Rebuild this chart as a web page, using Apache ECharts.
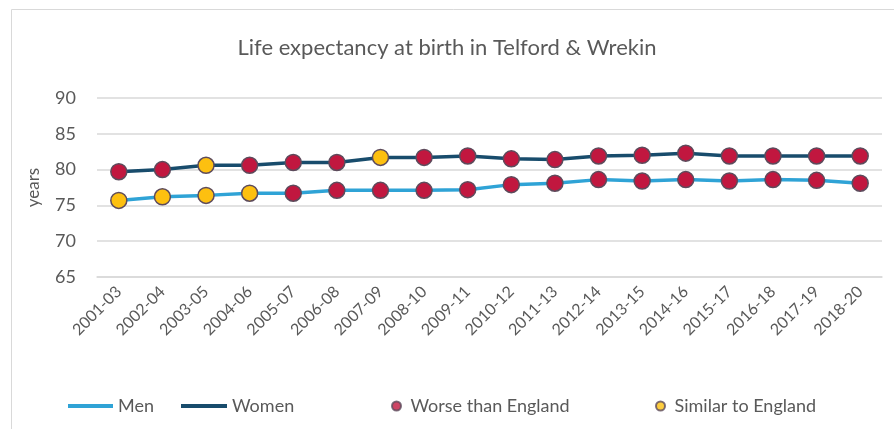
<!DOCTYPE html>
<html>
<head>
<meta charset="utf-8">
<script src="https://cdn.jsdelivr.net/npm/echarts@6/dist/echarts.min.js"></script>
<style>
  html, body { margin: 0; padding: 0; background: #fff; }
  #chart { width: 894px; height: 429px; }
</style>
</head>
<body>
<div id="chart"></div>
<script>
// periods on the x axis
const periods = ['2001-03', '2002-04', '2003-05', '2004-06', '2005-07', '2006-08', '2007-09', '2008-10', '2009-11',
  '2010-12', '2011-13', '2012-14', '2013-15', '2014-16', '2015-17', '2016-18', '2017-19', '2018-20'];

// life expectancy (years)
const menValues = [75.7, 76.2, 76.4, 76.7, 76.7, 77.1, 77.1, 77.1, 77.2, 77.9, 78.1, 78.6, 78.4, 78.6, 78.4, 78.6, 78.5, 78.1];
const womenValues = [79.7, 80.0, 80.6, 80.6, 81.0, 81.0, 81.7, 81.7, 81.9, 81.5, 81.4, 81.9, 82.0, 82.3, 81.9, 81.9, 81.9, 81.9];

// compared with England: W = worse, S = similar
const menStatus = ['S', 'S', 'S', 'S', 'W', 'W', 'W', 'W', 'W', 'W', 'W', 'W', 'W', 'W', 'W', 'W', 'W', 'W'];
const womenStatus = ['W', 'W', 'S', 'W', 'W', 'W', 'S', 'W', 'W', 'W', 'W', 'W', 'W', 'W', 'W', 'W', 'W', 'W'];

const yTicks = { min: 65, max: 90, step: 5 };

const MEN_COLOR = '#2fa3d6';
const WOMEN_COLOR = '#184c6c';
const WORSE_COLOR = '#c1173f';
const SIMILAR_COLOR = '#fdc010';
const TEXT_COLOR = '#595959';
const FONT = 'Lato, "Open Sans", sans-serif';

function withStatus(values, status) {
  return values.map((v, i) => ({
    value: v,
    itemStyle: { color: status[i] === 'W' ? WORSE_COLOR : SIMILAR_COLOR }
  }));
}

const chart = echarts.init(document.getElementById('chart'));

const legendText = { color: TEXT_COLOR, fontSize: 18, fontFamily: FONT };
const lineLegend = { icon: 'rect', itemHeight: 4, itemGap: 0, top: 392, itemStyle: { borderWidth: 0 }, textStyle: legendText };
const dotLegend = { icon: 'circle', itemWidth: 18, itemHeight: 9, top: 392, textStyle: legendText };

const option = {
  animation: false,
  textStyle: { fontFamily: FONT },
  title: {
    text: 'Life expectancy at birth in Telford & Wrekin',
    left: 'center',
    top: 32,
    textStyle: { color: TEXT_COLOR, fontSize: 22, fontWeight: 'normal', fontFamily: FONT }
  },
  graphic: [{
    type: 'rect',
    left: 9, top: 7,
    shape: { width: 920, height: 450 },
    style: { fill: 'none', stroke: '#d9d9d9', lineWidth: 1 },
    silent: true
  }],
  legend: [
    Object.assign({ data: ['Men'], left: 63, itemWidth: 45 }, lineLegend),
    Object.assign({ data: ['Women'], left: 176, itemWidth: 46 }, lineLegend),
    Object.assign({ data: ['Worse than England'], left: 386 }, dotLegend),
    Object.assign({ data: ['Similar to England'], left: 650 }, dotLegend)
  ],
  grid: { left: 97, right: 12, top: 98, bottom: 152 },
  xAxis: {
    type: 'category',
    data: periods,
    boundaryGap: true,
    axisLine: { lineStyle: { color: '#d9d9d9', width: 1.5 } },
    axisTick: { show: false },
    axisLabel: { rotate: 45, color: TEXT_COLOR, fontSize: 16, margin: 12, interval: 0 }
  },
  yAxis: {
    type: 'value',
    min: yTicks.min,
    max: yTicks.max,
    interval: yTicks.step,
    name: 'years',
    nameLocation: 'middle',
    nameGap: 55,
    nameRotate: 90,
    nameTextStyle: { color: TEXT_COLOR, fontSize: 17 },
    axisLine: { show: false },
    axisTick: { show: false },
    axisLabel: { color: TEXT_COLOR, fontSize: 18, margin: 21 },
    splitLine: { lineStyle: { color: '#d9d9d9', width: 1.5 } }
  },
  series: [
    {
      name: 'Men',
      type: 'line',
      color: MEN_COLOR,
      data: withStatus(menValues, menStatus),
      lineStyle: { color: MEN_COLOR, width: 3.5 },
      symbol: 'circle',
      symbolSize: 16,
      itemStyle: { borderColor: '#5d4b5c', borderWidth: 1.5 },
      z: 3
    },
    {
      name: 'Women',
      type: 'line',
      color: WOMEN_COLOR,
      data: withStatus(womenValues, womenStatus),
      lineStyle: { color: WOMEN_COLOR, width: 3.5 },
      symbol: 'circle',
      symbolSize: 16,
      itemStyle: { borderColor: '#5d4b5c', borderWidth: 1.5 },
      z: 3
    },
    { name: 'Worse than England', type: 'scatter', data: [], itemStyle: { color: WORSE_COLOR, borderColor: '#5d4b5c', borderWidth: 1 } },
    { name: 'Similar to England', type: 'scatter', data: [], itemStyle: { color: SIMILAR_COLOR, borderColor: '#5d4b5c', borderWidth: 1 } }
  ]
};

chart.setOption(option);
</script>
</body>
</html>
